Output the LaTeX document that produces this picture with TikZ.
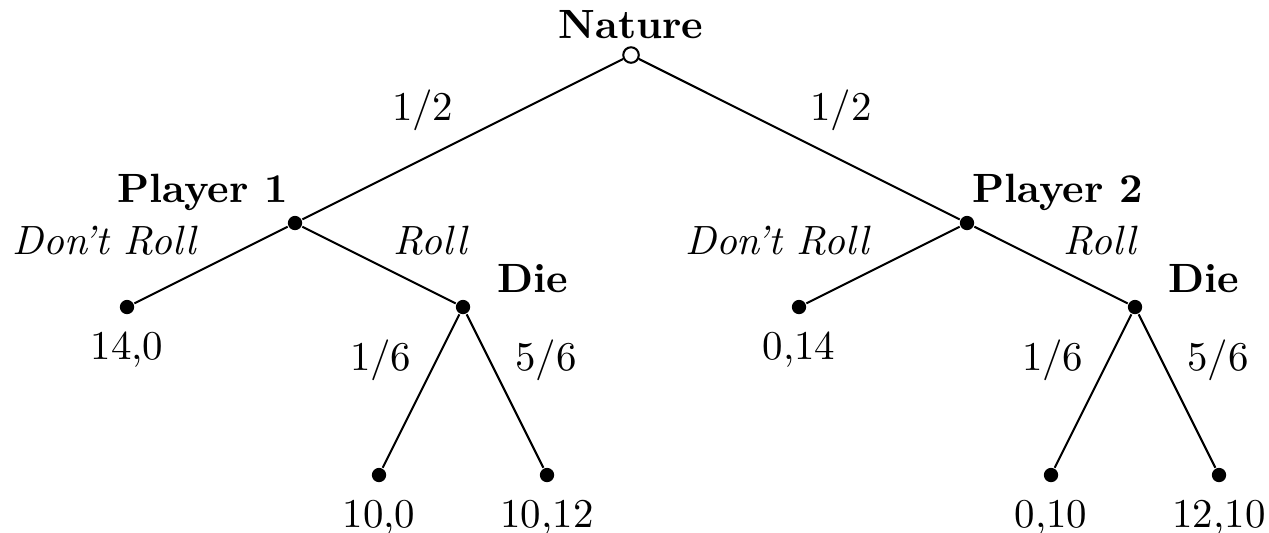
\documentclass[tikz,border=0pt]{standalone}
\begin{document}
\begin{tikzpicture}[x=0.722cm, y=0.722cm, line width=0.5pt,
    dot/.style={circle, fill, inner sep=0pt, minimum size=3.5pt},
    chance/.style={circle, draw, fill=white, inner sep=0pt, minimum size=3.8pt},
    who/.style={font=\bfseries, anchor=base},
    move/.style={font=\itshape, anchor=base},
    pay/.style={anchor=base}]
    \useasboundingbox (-7.512,-5.690) rectangle (7.595,0.655);
    % decision nodes
    \node[chance] (nat) at (0,0) {};
    \node[dot] (p1) at (-4,-2) {};
    \node[dot] (p2) at (4,-2) {};
    \node[dot] (d1) at (-2,-3) {};
    \node[dot] (d2) at (6,-3) {};
    % leaves
    \node[dot] (l1) at (-6,-3) {};
    \node[dot] (l2) at (-3,-5) {};
    \node[dot] (l3) at (-1,-5) {};
    \node[dot] (l4) at (2,-3) {};
    \node[dot] (l5) at (5,-5) {};
    \node[dot] (l6) at (7,-5) {};
    % edges
    \draw (nat) -- (p1);
    \draw (nat) -- (p2);
    \draw (p1) -- (l1);
    \draw (p1) -- (d1);
    \draw (d1) -- (l2);
    \draw (d1) -- (l3);
    \draw (p2) -- (l4);
    \draw (p2) -- (d2);
    \draw (d2) -- (l5);
    \draw (d2) -- (l6);
    % names
    \node[who] (tnat) at (0,0.202) {Nature};
    \node[who] (tp1) at (-5.10,-1.75) {Player 1};
    \node[who] (tp2) at (5.08,-1.75) {Player 2};
    \node[who] (td1) at (-1.17,-2.83) {Die};
    \node[who] (td2) at (6.82,-2.83) {Die};
    % moves and chances
    \node[pay] (h1) at (-2.48,-0.774) {1/2};
    \node[pay] (h2) at (2.50,-0.774) {1/2};
    \node[move] (m1) at (-6.27,-2.38) {Don't Roll};
    \node[move] (m2) at (-2.39,-2.38) {Roll};
    \node[move] (m3) at (1.74,-2.38) {Don't Roll};
    \node[move] (m4) at (5.58,-2.38) {Roll};
    \node[pay] (s1) at (-2.98,-3.75) {1/6};
    \node[pay] (f1) at (-1.01,-3.75) {5/6};
    \node[pay] (s2) at (5.02,-3.75) {1/6};
    \node[pay] (f2) at (6.99,-3.75) {5/6};
    % payoffs
    \node[pay] (u1) at (-6,-3.63) {14,0};
    \node[pay] (u2) at (-3,-5.63) {10,0};
    \node[pay] (u3) at (-1,-5.63) {10,12};
    \node[pay] (u4) at (2,-3.63) {0,14};
    \node[pay] (u5) at (5,-5.63) {0,10};
    \node[pay] (u6) at (7,-5.63) {12,10};
\end{tikzpicture}
\end{document}
